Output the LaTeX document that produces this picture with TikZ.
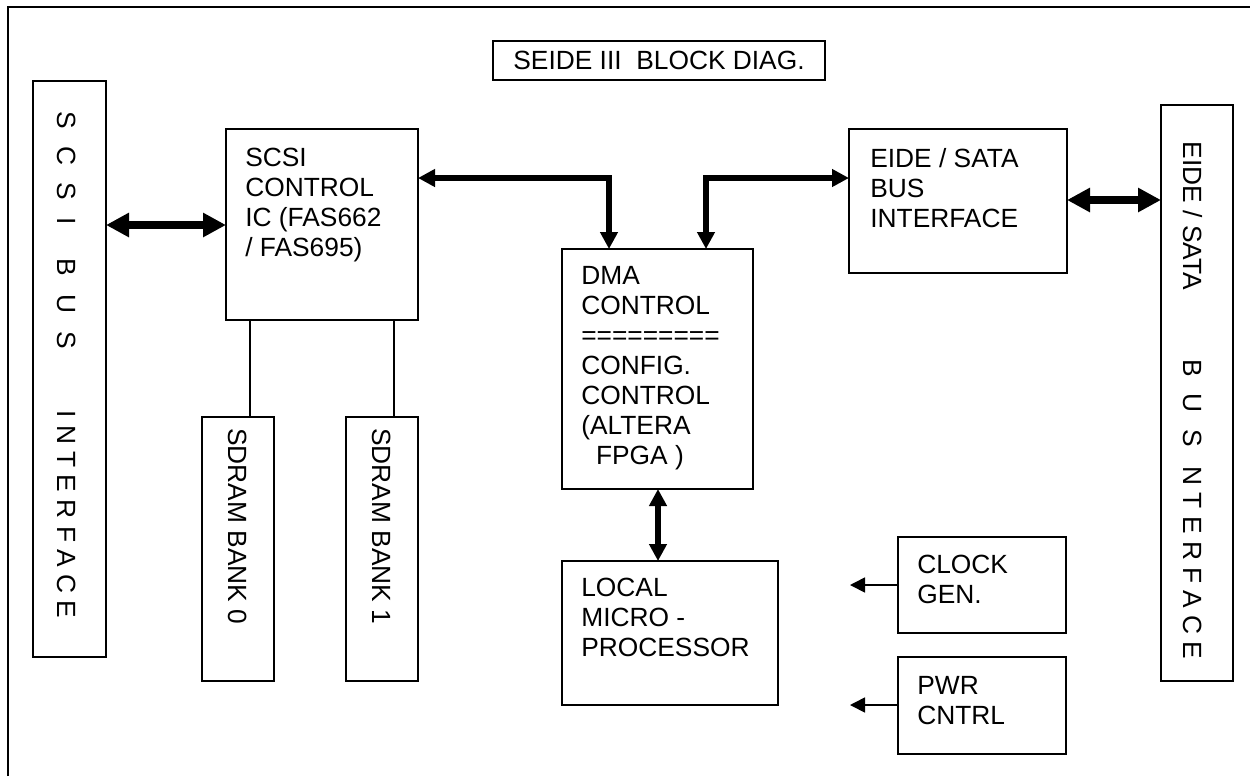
\documentclass[tikz,border=0pt]{standalone}
\usepackage{fontspec}
\setmainfont{Liberation Sans}
\usetikzlibrary{arrows.meta}
\begin{document}
\begin{tikzpicture}[x=0.6pt,y=-0.6pt,
  blk/.style={draw, line width=1.1pt, inner sep=0pt, outer sep=0pt, anchor=north west},
  txt/.style={font=\fontsize{15.8}{18}\selectfont, inner sep=0pt, anchor=north west, align=left},
  vtxt/.style={font=\fontsize{15.8}{18}\selectfont, inner sep=0pt, rotate=-90, anchor=base},
  vtxts/.style={font=\fontsize{15.8}{18}\selectfont, inner sep=0pt, rotate=-90, anchor=base west},
  bigarr/.style={line width=4.8pt, line join=miter, {Triangle[length=13.8pt,width=13.8pt]}-{Triangle[length=13.8pt,width=13.8pt]}},
  midarr/.style={line width=3.6pt, line join=miter, {Triangle[length=10.2pt,width=10.2pt]}-{Triangle[length=10.2pt,width=10.2pt]}},
  thinarr/.style={line width=1pt, -{Triangle[length=9pt,width=9pt]}},
  link/.style={line width=1pt}
]
\useasboundingbox (0,0) rectangle (1250,776);
% outer frame
\draw[line width=1.6pt] (8,776) -- (8,7) -- (1250,7);

% title
\node[blk, anchor=center, minimum width=332*0.6pt, minimum height=39*0.6pt,
      font=\fontsize{15.8}{18}\selectfont] (title) at (659,60.5) {SEIDE III\ \ BLOCK DIAG.};

% boxes
\node[blk, minimum width=73*0.6pt, minimum height=576*0.6pt] (scsibus) at (33,81) {};
\node[blk, minimum width=192*0.6pt, minimum height=191*0.6pt] (scsictl) at (226,129) {};
\node[blk, minimum width=72*0.6pt, minimum height=264*0.6pt] (sd0) at (202,417) {};
\node[blk, minimum width=72*0.6pt, minimum height=264*0.6pt] (sd1) at (346,417) {};
\node[blk, minimum width=191*0.6pt, minimum height=240*0.6pt] (dma) at (562,249) {};
\node[blk, minimum width=216*0.6pt, minimum height=144*0.6pt] (local) at (562,561) {};
\node[blk, minimum width=218*0.6pt, minimum height=144*0.6pt] (eide) at (849,129) {};
\node[blk, minimum width=72*0.6pt, minimum height=576*0.6pt] (eidebus) at (1161,105) {};
\node[blk, minimum width=168*0.6pt, minimum height=96*0.6pt] (clk) at (898,537) {};
\node[blk, minimum width=168*0.6pt, minimum height=97*0.6pt] (pwr) at (898,657) {};

% texts
\node[txt] (scsictltxt) at (245,148) {SCSI\\CONTROL\\IC (FAS662\\/ FAS695)};
\node[txt] (dmatxt) at (581,266) {DMA\\CONTROL\\=========\\CONFIG.\\CONTROL\\(ALTERA\\\hspace*{8.8pt}FPGA )};
\node[txt] (eidetxt) at (870,148) {EIDE / SATA\\BUS\\INTERFACE};
\node[txt] (localtxt) at (581,578) {LOCAL\\MICRO -\\PROCESSOR};
\node[txt] (clktxt) at (917,555) {CLOCK\\GEN.};
\node[txt] (pwrtxt) at (917,676) {PWR\\CNTRL};

% vertical texts
\node[vtxt] (lb1) at (57.3,168) {S\hspace{10.5pt}C\hspace{10.5pt}S\hspace{10.5pt}I};
\node[vtxt] (lb2) at (57.3,304) {B\hspace{11pt}U\hspace{11pt}S};
\node[vtxt] (lb3) at (57.3,514.5) {I N T E R F A C E};
\node[vtxt] (rb1) at (1183,216) {EIDE / SATA};
\node[vtxt] (rb2) at (1183,403) {B\hspace{10pt}U\hspace{10pt}S};
\node[vtxt] (rb3) at (1183,563) {N T E R F A C E};
\node[vtxts] (sd0txt) at (228.9,428) {SDRAM BANK 0};
\node[vtxts] (sd1txt) at (372.3,428) {SDRAM BANK 1};

% connectors
\draw[bigarr] (scsibus.east |- 0,225) -- (scsictl.west |- 0,225);
\draw[bigarr] (eide.east |- 0,200) -- (eidebus.west |- 0,200);
\draw[midarr] (scsictl.east |- 0,178) -- (609,178) -- (dma.north -| 609,0);
\draw[midarr] (dma.north -| 706,0) -- (706,178) -- (eide.west |- 0,178);
\draw[midarr] (dma.south -| 658,0) -- (local.north -| 658,0);
\draw[link] (scsictl.south -| 250,0) -- (sd0.north -| 250,0);
\draw[link] (scsictl.south -| 394,0) -- (sd1.north -| 394,0);
\coordinate (clkend) at (850,585);
\coordinate (pwrend) at (850,705);
\draw[thinarr] (clk.west |- clkend) -- (clkend);
\draw[thinarr] (pwr.west |- pwrend) -- (pwrend);
\end{tikzpicture}
\end{document}
